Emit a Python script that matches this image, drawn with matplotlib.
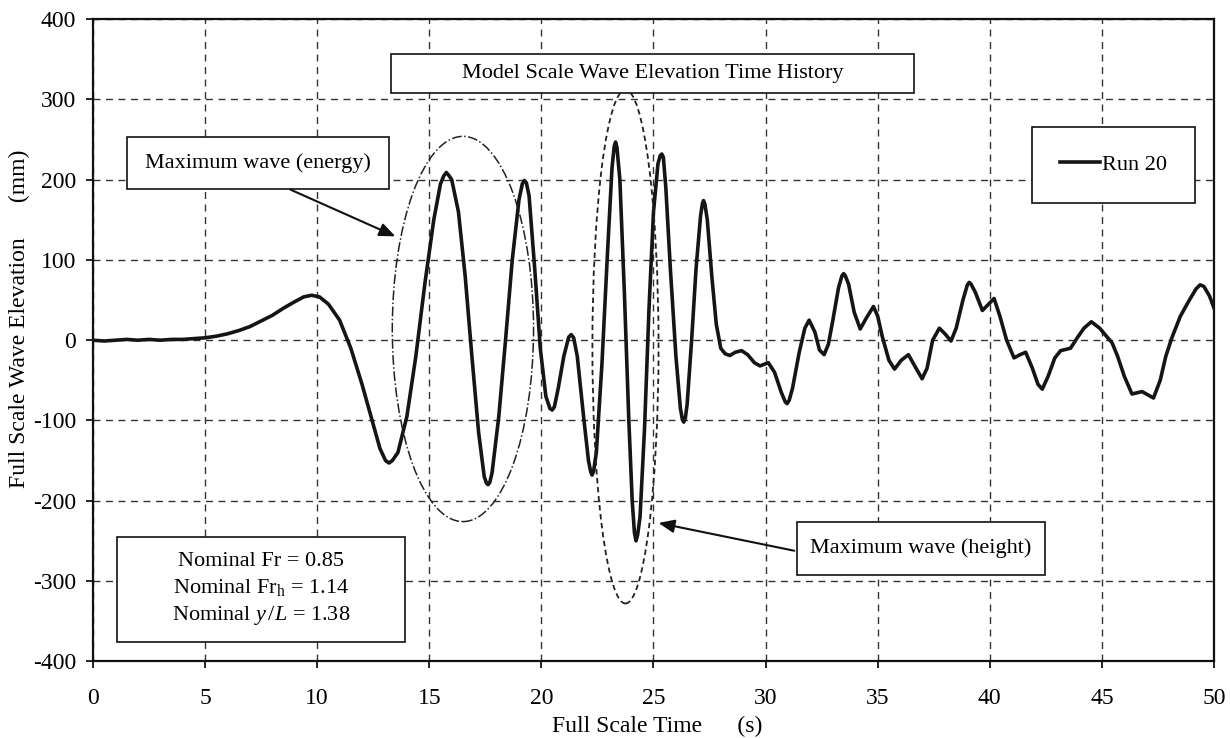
import numpy as np
import matplotlib as mpl
mpl.use('Agg')
import matplotlib.pyplot as plt
from matplotlib.patches import Ellipse, Rectangle

plt.rcParams.update({
    'font.family': 'Liberation Serif',
    'mathtext.fontset': 'custom',
    'mathtext.rm': 'Liberation Serif',
    'mathtext.it': 'Liberation Serif:italic',
    'axes.unicode_minus': False,
    'font.size': 16,
})

# Run 20 wave elevation record (full scale time in s, elevation in mm)
time_s = [0, 0.5, 1, 1.5, 2, 2.5, 3, 3.5, 4, 4.5, 5, 5.5, 6, 6.5, 7, 7.5, 8, 8.5, 9, 9.4,
          9.75, 10.1, 10.5, 11, 11.5, 12, 12.4, 12.8, 13.05, 13.2, 13.35, 13.6, 14.0, 14.4,
          14.8, 15.2, 15.5, 15.65, 15.76, 15.88, 16.0, 16.3, 16.6, 16.9, 17.2, 17.45, 17.55,
          17.62, 17.7, 17.8, 18.1, 18.4, 18.7, 19.0, 19.15, 19.24, 19.33, 19.45, 19.7, 19.95,
          20.2, 20.38, 20.48, 20.58, 20.75, 21.0, 21.22, 21.33, 21.44, 21.6, 21.9, 22.1, 22.2,
          22.26, 22.33, 22.45, 22.7, 22.95, 23.15, 23.25, 23.31, 23.37, 23.5, 23.7, 23.9,
          24.05, 24.15, 24.22, 24.29, 24.4, 24.6, 24.8, 25.0, 25.2, 25.3, 25.37, 25.44, 25.55,
          25.75, 26.0, 26.2, 26.29, 26.35, 26.42, 26.5, 26.7, 26.9, 27.1, 27.18, 27.23, 27.29,
          27.4, 27.6, 27.8, 28.0, 28.2, 28.41, 28.65, 28.93, 29.2, 29.5, 29.75, 30.12, 30.4,
          30.7, 30.88, 30.96, 31.05, 31.2, 31.5, 31.75, 31.94, 32.2, 32.4, 32.61, 32.8, 33.0,
          33.25, 33.4, 33.48, 33.56, 33.7, 33.95, 34.22, 34.5, 34.81, 35.0, 35.2, 35.5, 35.75,
          36.05, 36.37, 36.65, 36.98, 37.2, 37.45, 37.75, 38.0, 38.27, 38.5, 38.8, 39.0, 39.08,
          39.16, 39.35, 39.67, 39.95, 40.19, 40.45, 40.75, 41.08, 41.35, 41.6, 41.9, 42.15,
          42.34, 42.6, 42.9, 43.16, 43.6, 43.9, 44.2, 44.53, 44.9, 45.2, 45.45, 45.7, 46.0,
          46.34, 46.79, 47.3, 47.6, 47.85, 48.12, 48.5, 48.9, 49.2, 49.38, 49.55, 49.8, 50.0]
elev_mm = [0, -1, 0, 1, 0, 1, 0, 1, 1, 2, 3, 5, 8, 12, 17, 24, 31, 40, 48, 54,
           56, 54, 45, 25, -10, -55, -95, -135, -150, -153, -150, -140, -95, -20,
           70, 150, 195, 205, 209, 205, 200, 160, 80, -20, -115, -170, -178,
           -180, -177, -165, -95, 0, 100, 175, 195, 199, 196, 180, 90, -10,
           -70, -85, -87, -83, -60, -20, 4, 7, 3, -20, -100, -150, -164,
           -168, -163, -140, -30, 110, 215, 242, 247, 240, 200, 60, -100,
           -200, -240, -250, -243, -220, -110, 40, 160, 220, 230, 232, 228, 190,
           90, -20, -85, -99, -102, -97, -80, 0, 90, 155, 170, 174, 170,
           150, 80, 20, -10, -17, -19, -15, -13, -18, -28, -32, -28, -40,
           -65, -77, -79, -75, -60, -15, 15, 25, 10, -12, -18, -5, 25,
           65, 80, 83, 80, 70, 35, 14, 28, 42, 30, 5, -25, -36,
           -25, -18, -32, -48, -35, 0, 15, 8, -1, 15, 50, 69, 72,
           70, 60, 37, 45, 52, 30, 0, -22, -18, -15, -35, -55,
           -61, -45, -22, -13, -10, 3, 15, 23, 15, 5, -3, -20, -45,
           -67, -64, -72, -50, -20, 3, 30, 50, 64, 69, 67, 55, 40]

x_ticks = [0, 5, 10, 15, 20, 25, 30, 35, 40, 45, 50]
y_ticks = [-400, -300, -200, -100, 0, 100, 200, 300, 400]

fig = plt.figure(figsize=(12.3, 7.38), dpi=100)
ax = fig.add_axes([0.0756, 0.104, 0.9114, 0.870])

ax.plot(time_s, elev_mm, color='#151515', lw=2.6, label='Run 20', zorder=3,
        solid_joinstyle='round')

ax.set_xlim(0, 50)
ax.set_ylim(-400, 400)
ax.set_xticks(x_ticks)
ax.set_yticks(y_ticks)
ax.grid(True, color='#333333', linestyle=(0, (5, 4)), linewidth=1.0)
ax.tick_params(direction='out', length=5, width=1.2, labelsize=17)
ax.tick_params(axis='x', pad=14)
ax.tick_params(axis='y', pad=7)
for s in ax.spines.values():
    s.set_linewidth(1.6)
    s.set_color('#111111')

ax.set_xlabel('Full Scale Time      (s)', fontsize=17, va='center')
ax.xaxis.set_label_coords(0.503, -0.101)
ax.set_ylabel('Full Scale Wave Elevation      (mm)', fontsize=17, va='center')
ax.yaxis.set_label_coords(-0.066, 0.534)

# helper: white framed box with centred text
def text_box(x0, y0, x1, y1, txt, **kw):
    ax.add_patch(Rectangle((x0, y0), x1 - x0, y1 - y0, facecolor='white',
                           edgecolor='#111111', lw=1.2, zorder=5))
    ax.text((x0 + x1) / 2, (y0 + y1) / 2, txt, ha='center', va='center',
            zorder=6, **kw)

text_box(13.3, 308, 36.6, 357, 'Model Scale Wave Elevation Time History')
text_box(1.5, 189, 13.2, 253, 'Maximum wave (energy)')
text_box(31.4, -292, 42.46, -226, 'Maximum wave (height)')
text_box(1.07, -376, 13.9, -245,
         'Nominal Fr = 0.85\nNominal Fr$_\\mathrm{h}$ = 1.14\nNominal $y\\,/L$ = 1.38',
         linespacing=1.35)

# ellipses around the two maximum waves
ax.add_patch(Ellipse((16.5, 14), 6.3, 480, fill=False, edgecolor='#222222',
                     lw=1.1, linestyle='-.', zorder=4))
ax.add_patch(Ellipse((23.75, -8), 2.95, 640, fill=False, edgecolor='#222222',
                     lw=1.3, linestyle=(0, (3, 2)), zorder=4))

arrow = dict(arrowstyle='-|>,head_length=0.6,head_width=0.25', color='#111111', lw=1.5)
ax.annotate('', xy=(13.6, 128), xytext=(8.7, 189), arrowprops=arrow, zorder=6)
ax.annotate('', xy=(25.1, -227), xytext=(31.4, -263), arrowprops=arrow, zorder=6)

leg = ax.legend(loc='center', bbox_to_anchor=(0.91, 0.773), fancybox=False,
                framealpha=1, edgecolor='#111111', borderpad=1.25,
                handlelength=1.8, handletextpad=0.1, fontsize=16)
leg.get_frame().set_linewidth(1.2)
leg.set_zorder(7)

fig.savefig('out.png', dpi=100, facecolor='white')
